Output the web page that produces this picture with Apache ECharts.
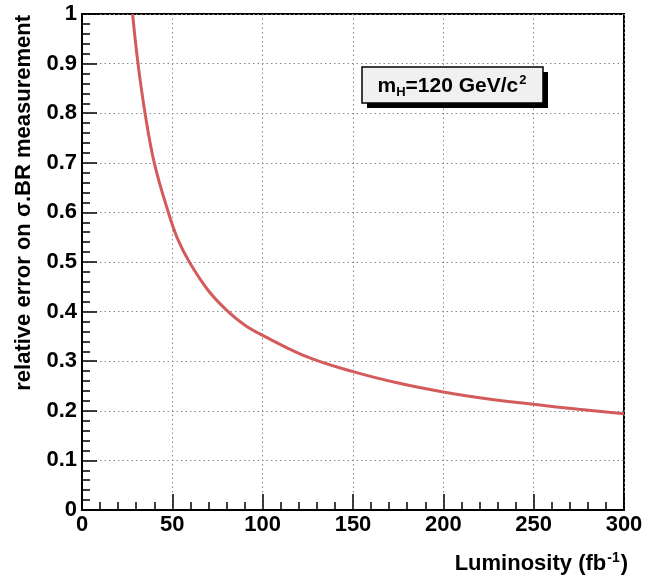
<!DOCTYPE html>
<html>
<head>
<meta charset="utf-8">
<script src="https://cdn.jsdelivr.net/npm/echarts@6/dist/echarts.min.js"></script>
<style>html,body{margin:0;padding:0;background:#fff}#c{width:660px;height:577px}</style>
</head>
<body>
<div id="c"></div>
<script>
var luminosity = [28, 31, 34.9, 40, 47.8, 53, 59.4, 70, 80, 90, 100, 125, 150, 175, 200, 225, 250, 275, 300];
var relError = [1.0, 0.9, 0.8, 0.7, 0.6, 0.546, 0.5, 0.442, 0.403, 0.373, 0.352, 0.308, 0.279, 0.256, 0.238, 0.224, 0.213, 0.203, 0.194];
var xTicks = [0, 50, 100, 150, 200, 250, 300];
var yTicks = [0, 0.1, 0.2, 0.3, 0.4, 0.5, 0.6, 0.7, 0.8, 0.9, 1];
var xTitle = 'Luminosity (fb';
var yTitle = 'relative error on σ.BR measurement';

var chart = echarts.init(document.getElementById('c'), null, {renderer: 'canvas'});
var FONT = 'Liberation Sans, Arial, sans-serif';
var data = luminosity.map(function (l, i) { return [l, relError[i]]; });

chart.setOption({
  animation: false,
  backgroundColor: '#fff',
  grid: {left: 82, right: 36, top: 14, bottom: 67, show: true, borderColor: '#000', borderWidth: 2},
  xAxis: {
    type: 'value', min: 0, max: 300, interval: 50,
    axisLine: {show: true, onZero: false, lineStyle: {color: '#000', width: 2}},
    axisTick: {show: true, inside: true, length: 16, lineStyle: {color: '#000', width: 1.5}},
    minorTick: {show: true, splitNumber: 5, length: 8, lineStyle: {color: '#000', width: 1.5}},
    splitLine: {show: true, lineStyle: {color: '#888', type: [1.5, 3], width: 1}},
    axisLabel: {color: '#000', fontFamily: FONT, fontWeight: 'bold', fontSize: 22, margin: 4,
      formatter: function (v) { return xTicks.indexOf(v) >= 0 ? String(v) : ''; }}
  },
  yAxis: {
    type: 'value', min: 0, max: 1, interval: 0.1,
    axisLine: {show: true, onZero: false, lineStyle: {color: '#000', width: 2}},
    axisTick: {show: true, inside: true, length: 15, lineStyle: {color: '#000', width: 1.5}},
    minorTick: {show: true, splitNumber: 5, length: 8, lineStyle: {color: '#000', width: 1.5}},
    splitLine: {show: true, lineStyle: {color: '#888', type: [1.5, 3], width: 1}},
    axisLabel: {color: '#000', fontFamily: FONT, fontWeight: 'bold', fontSize: 22, margin: 5,
      formatter: function (v) {
        var r = Math.round(v * 10) / 10;
        return yTicks.indexOf(r) >= 0 ? String(r) : '';
      }}
  },
  series: [{
    type: 'line', data: data, smooth: 0.4, showSymbol: false,
    lineStyle: {color: '#d45b5b', width: 3}, clip: true
  }],
  graphic: [
    {type: 'text', x: 628, y: 551,
      style: {text: '{t|' + xTitle + '}{s|-1}{t|)}', align: 'right', verticalAlign: 'top',
        rich: {t: {fontFamily: FONT, fontWeight: 'bold', fontSize: 22, fill: '#000', verticalAlign: 'bottom', lineHeight: 24},
               s: {fontFamily: FONT, fontWeight: 'bold', fontSize: 14, fill: '#000', verticalAlign: 'top', padding: [0, 1, 14, 1], lineHeight: 24}}}},
    {type: 'text', x: 24, y: 15, rotation: Math.PI / 2,
      style: {text: yTitle, align: 'right', verticalAlign: 'middle',
        font: 'bold 22px Liberation Sans, Arial, sans-serif', fill: '#000'}},
    {type: 'rect', shape: {x: 367, y: 72, width: 181, height: 36}, style: {fill: '#000'}, z: 10},
    {type: 'rect', shape: {x: 362, y: 67, width: 181, height: 36}, style: {fill: '#f0f0f0', stroke: '#000', lineWidth: 1.5}, z: 11},
    {type: 'text', x: 452, y: 86, z: 12,
      style: {text: '{t|m}{b|H}{t|=120 GeV/c}{p|2}', align: 'center', verticalAlign: 'middle',
        rich: {t: {fontFamily: FONT, fontWeight: 'bold', fontSize: 21, fill: '#000', lineHeight: 24},
               b: {fontFamily: FONT, fontWeight: 'bold', fontSize: 13, fill: '#000', padding: [12, 0, 0, 0], lineHeight: 24},
               p: {fontFamily: FONT, fontWeight: 'bold', fontSize: 13, fill: '#000', padding: [0, 0, 12, 1], lineHeight: 24}}}}
  ]
});
</script>
</body>
</html>
